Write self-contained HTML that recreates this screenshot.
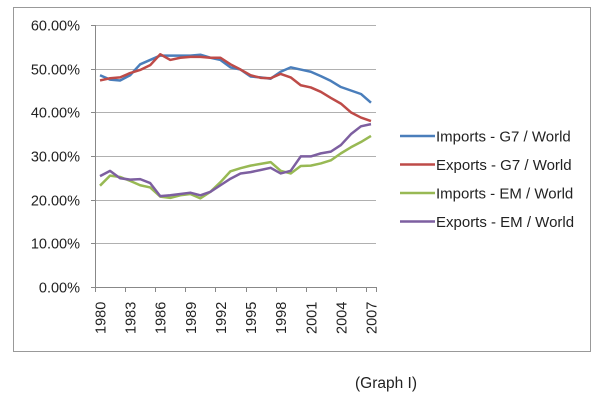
<!DOCTYPE html>
<html><head><meta charset="utf-8"><style>
body{margin:0;background:#fff;width:603px;height:405px;overflow:hidden;font-family:"Liberation Sans",sans-serif}
text{font-family:"Liberation Sans",sans-serif;fill:#222}
</style></head><body>
<svg id="chart" width="603" height="405" xmlns="http://www.w3.org/2000/svg">
<rect x="13.5" y="7.5" width="577" height="344" fill="#fff" stroke="#999" stroke-width="1"/>
<g id="grid"></g><g id="axes"></g><g id="series"></g><g id="legend"></g>
<text x="355" y="388" font-size="15.5">(Graph I)</text>
</svg>
<script>
const years=[1980,1981,1982,1983,1984,1985,1986,1987,1988,1989,1990,1991,1992,1993,1994,1995,1996,1997,1998,1999,2000,2001,2002,2003,2004,2005,2006,2007];
const yTicks=[0,10,20,30,40,50,60];
const importsG7=[48.5,47.5,47.3,48.5,51,52,53,53,53,53,53.2,52.5,52,50.3,49.8,48.2,48,47.7,49.3,50.3,49.8,49.3,48.3,47.2,45.8,45,44.2,42.2];
const exportsG7=[47.3,47.8,48,49,49.7,50.8,53.3,52,52.5,52.7,52.7,52.5,52.5,51,49.8,48.5,47.9,47.8,48.8,48,46.2,45.7,44.7,43.3,42,40,38.8,38];
const importsEM=[23.2,25.5,25.2,24.3,23.3,22.8,20.7,20.4,21,21.3,20.3,21.8,24,26.5,27.2,27.8,28.2,28.6,26.6,26,27.7,27.8,28.3,29,30.6,32,33.2,34.6];
const exportsEM=[25.4,26.6,24.9,24.6,24.7,23.8,20.8,21,21.3,21.6,21,21.8,23.3,24.8,26,26.3,26.8,27.3,26,26.6,29.9,29.9,30.6,31,32.5,35,36.8,37.3];
const seriesNames=["Imports - G7 / World","Exports - G7 / World","Imports - EM / World","Exports - EM / World"];
const seriesColors=["#4a7ebb","#be4b48","#98b954","#7d5fa0"];
const seriesData=[importsG7,exportsG7,importsEM,exportsEM];
const L=95,R=376,T=25,B=287,NS="http://www.w3.org/2000/svg";
const bw=(R-L)/years.length;
const x=i=>L+bw*(i+0.5);
const y=v=>B-(v/60)*(B-T);
function mk(tag,attrs,parent){const e=document.createElementNS(NS,tag);for(const k in attrs)e.setAttribute(k,attrs[k]);parent.appendChild(e);return e;}
const grid=document.getElementById('grid'),axes=document.getElementById('axes'),ser=document.getElementById('series'),leg=document.getElementById('legend');
yTicks.forEach(t=>{
 const yy=Math.round(y(t))+0.5;
 if(t>0){const g=mk('line',{x1:L,x2:R,y1:yy,y2:yy,stroke:'#b0b0b0','stroke-width':1},grid);
 
 }
 const tk=mk('line',{x1:L-4,x2:L,y1:yy,y2:yy,stroke:'#888'},axes);
 
 
 const tx=mk('text',{x:80,y:yy+5,'text-anchor':'end','font-size':14.5},axes);
 tx.textContent=t.toFixed(2)+'%';
 
 
});
const ya=mk('line',{x1:L+0.5,x2:L+0.5,y1:T,y2:B,stroke:'#888'},axes);


const xa=mk('line',{x1:L,x2:R,y1:B+0.5,y2:B+0.5,stroke:'#888'},axes);


years.forEach((yr,i)=>{
 if(i%3===0){
  const bx=Math.round(L+bw*i)+0.5;
  const tk=mk('line',{x1:bx,x2:bx,y1:B,y2:B+5,stroke:'#888'},axes);
  
  
  const tx=mk('text',{x:0,y:0,'font-size':14.5,transform:`translate(${x(i)+5.5},${334}) rotate(-90)`},axes);
  tx.textContent=yr;
  
  
 }
});
{const bx=R+0.5;const tk=mk('line',{x1:bx,x2:bx,y1:B,y2:B+5,stroke:'#888'},axes);
 
 }
seriesData.forEach((d,s)=>{
 const p=mk('polyline',{points:d.map((v,i)=>x(i)+','+y(v)).join(' '),fill:'none',stroke:seriesColors[s],'stroke-width':2.5,'stroke-linejoin':'round'},ser);
 
 
 const ly=136+s*28.5;
 const ll=mk('line',{x1:400,x2:435,y1:ly,y2:ly,stroke:seriesColors[s],'stroke-width':2.5},leg);
 
 
 const lt=mk('text',{x:436,y:ly+5.5,'font-size':15},leg);
 lt.textContent=seriesNames[s];
 
 
});
</script>
</body></html>
